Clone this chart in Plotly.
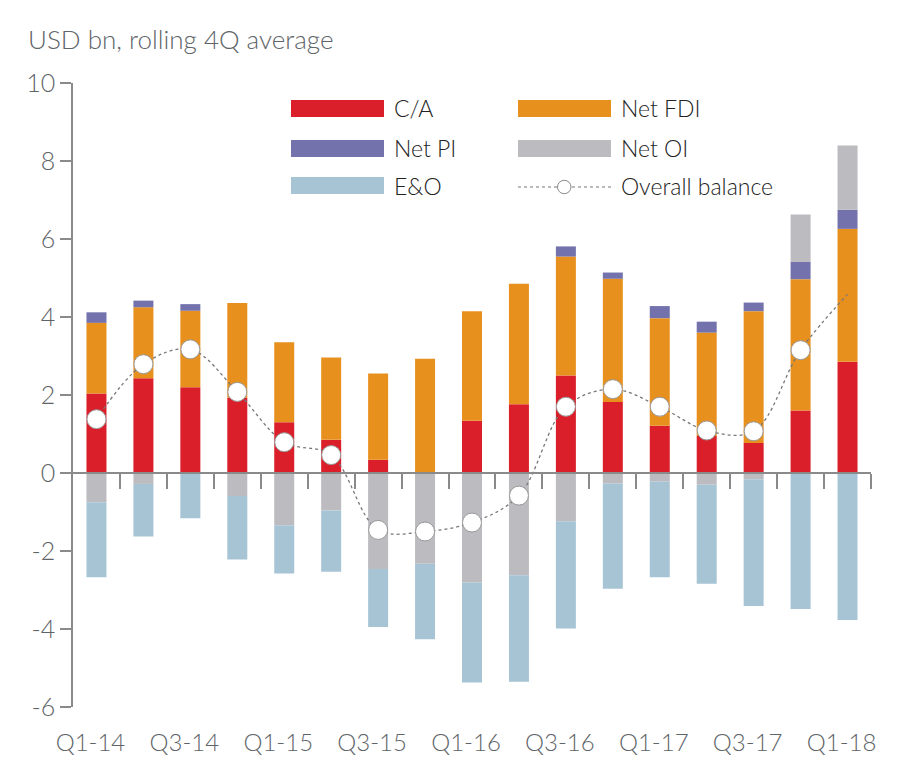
import plotly.graph_objects as go

categories = ["Q1-14", "Q2-14", "Q3-14", "Q4-14", "Q1-15", "Q2-15", "Q3-15", "Q4-15",
              "Q1-16", "Q2-16", "Q3-16", "Q4-16", "Q1-17", "Q2-17", "Q3-17", "Q4-17", "Q1-18"]
tick_labels = categories[::2]
y_ticks = [-6, -4, -2, 0, 2, 4, 6, 8, 10]
y_tick_text = ["-6", "-4", "-2", "0", "2", "4", "6", "8", "10"]

ca = [2.04, 2.43, 2.20, 1.93, 1.30, 0.85, 0.34, 0.00, 1.34, 1.76, 2.50, 1.82, 1.21, 0.95, 0.77, 1.60, 2.85]
net_fdi = [1.81, 1.82, 1.96, 2.43, 2.05, 2.11, 2.21, 2.93, 2.81, 3.09, 3.05, 3.16, 2.76, 2.65, 3.38, 3.37, 3.41]
net_pi = [0.27, 0.17, 0.17, 0, 0, 0, 0, 0, 0, 0, 0.26, 0.16, 0.31, 0.28, 0.22, 0.44, 0.49]
net_oi = [-0.75, -0.28, 0, -0.59, -1.34, -0.96, -2.46, -2.33, -2.81, -2.62, -1.24, -0.27, -0.22, -0.30, -0.16, 1.22, 1.65]
e_and_o = [-1.92, -1.35, -1.16, -1.63, -1.24, -1.57, -1.49, -1.93, -2.56, -2.73, -2.75, -2.70, -2.45, -2.54, -3.25, -3.49, -3.77]
overall_balance = [1.38, 2.79, 3.17, 2.08, 0.79, 0.46, -1.46, -1.50, -1.27, -0.58, 1.70, 2.15, 1.70, 1.09, 1.07, 3.15, 4.58]

C_CA = "#DA1F2B"
C_FDI = "#E8901E"
C_PI = "#7372AD"
C_OI = "#BBBBC0"
C_EO = "#A7C4D5"
AXIS = "#8A8A8A"
TXT_AX = "#5E6468"
TXT_LEG = "#222222"
FONT = "Lato"
WEIGHT = 300
DASH = "3px,3px"

W, H = 904, 781
L, R, T, B = 73, 871, 83, 707

fig = go.Figure()
for name, vals, col in [("C/A", ca, C_CA), ("Net FDI", net_fdi, C_FDI), ("Net PI", net_pi, C_PI),
                        ("Net OI", net_oi, C_OI), ("E&O", e_and_o, C_EO)]:
    fig.add_trace(go.Bar(x=categories, y=vals, name=name, marker=dict(color=col, line=dict(width=0)),
                         showlegend=False))

sizes = [19] * (len(overall_balance) - 1) + [0]
fig.add_trace(go.Scatter(x=categories, y=overall_balance, name="Overall balance", mode="lines+markers",
                         line=dict(color="#777777", width=1.3, dash=DASH, shape="spline", smoothing=1),
                         marker=dict(size=sizes, color="white", opacity=1,
                                     line=dict(color="#999999", width=1)),
                         opacity=1, showlegend=False))

# helper invisible trace for the zero-line tick axis
fig.add_trace(go.Scatter(x=[-0.5, len(categories) - 0.5], y=[0, 0], xaxis="x2", mode="lines",
                         line=dict(width=0), hoverinfo="skip", showlegend=False))


def px(x):
    return (x - L) / (R - L)


def py(y):
    return (B - y) / (B - T)


shapes = []
annotations = []
legend_items = [
    ("C/A", C_CA, 291, 108.5),
    ("Net PI", C_PI, 291, 148.5),
    ("E&O", C_EO, 291, 185.5),
    ("Net FDI", C_FDI, 518, 108.5),
    ("Net OI", C_OI, 518, 148.5),
]
for name, col, x0, yc in legend_items:
    shapes.append(dict(type="rect", xref="paper", yref="paper", x0=px(x0), x1=px(x0 + 93),
                       y0=py(yc + 8.5), y1=py(yc - 8.5), fillcolor=col, line=dict(width=0), layer="above"))
    annotations.append(dict(xref="paper", yref="paper", x=px(x0 + 101), y=py(yc), text=name,
                            showarrow=False, xanchor="left", yanchor="middle",
                            font=dict(family=FONT, size=23, color=TXT_LEG, weight=WEIGHT)))
# overall balance legend
shapes.append(dict(type="line", xref="paper", yref="paper", x0=px(518), x1=px(611), y0=py(187), y1=py(187),
                   line=dict(color="#777777", width=1.2, dash=DASH), layer="above"))
shapes.append(dict(type="circle", xref="paper", yref="paper", x0=px(557.5), x1=px(571), y0=py(193.7),
                   y1=py(180.3), fillcolor="white", line=dict(color="#888888", width=1), layer="above"))
annotations.append(dict(xref="paper", yref="paper", x=px(619), y=py(186), text="Overall balance",
                        showarrow=False, xanchor="left", yanchor="middle",
                        font=dict(family=FONT, size=23, color=TXT_LEG, weight=WEIGHT)))

fig.update_layout(
    width=W, height=H,
    margin=dict(l=L, r=W - R, t=T, b=H - B, autoexpand=False),
    paper_bgcolor="white", plot_bgcolor="white",
    barmode="relative", bargap=0.574,
    font=dict(family=FONT, color=TXT_AX, size=22, weight=WEIGHT),
    title=dict(text="USD bn, rolling 4Q average", x=28 / W, xanchor="left", xref="container",
               y=1 - 40 / H, yanchor="middle", yref="container",
               font=dict(family=FONT, size=26, color=TXT_AX, weight=WEIGHT)),
    xaxis=dict(type="category", categoryorder="array", categoryarray=categories,
               range=[-0.5, len(categories) - 0.5], tickvals=tick_labels, ticktext=tick_labels,
               ticks="outside", ticklen=14, tickcolor="rgba(0,0,0,0)", showline=False, automargin=False,
               showgrid=False, zeroline=False, ticklabelshift=-6,
               tickfont=dict(family=FONT, size=24, color=TXT_AX, weight=WEIGHT)),
    xaxis2=dict(overlaying="x", anchor="free", position=6 / 16, range=[-0.5, len(categories) - 0.5],
                tickvals=[i + 0.5 for i in range(len(categories))], ticks="outside", ticklen=15,
                tickwidth=1.5, tickcolor=AXIS, showticklabels=False, showline=True, linecolor=AXIS,
                linewidth=1.5, showgrid=False, zeroline=False, side="bottom", automargin=False),
    yaxis=dict(range=[-6, 10], tickvals=y_ticks, ticktext=y_tick_text, ticks="outside", ticklen=11,
               tickwidth=1.5, tickcolor=AXIS, showline=True, linecolor=AXIS, linewidth=1.5,
               showgrid=False, zeroline=False, automargin=False,
               tickfont=dict(family=FONT, size=25, color=TXT_AX, weight=WEIGHT)),
    shapes=shapes, annotations=annotations,
)

fig.write_html("out.html", config={"displayModeBar": False},
               post_script="document.body.style.margin='0';")
